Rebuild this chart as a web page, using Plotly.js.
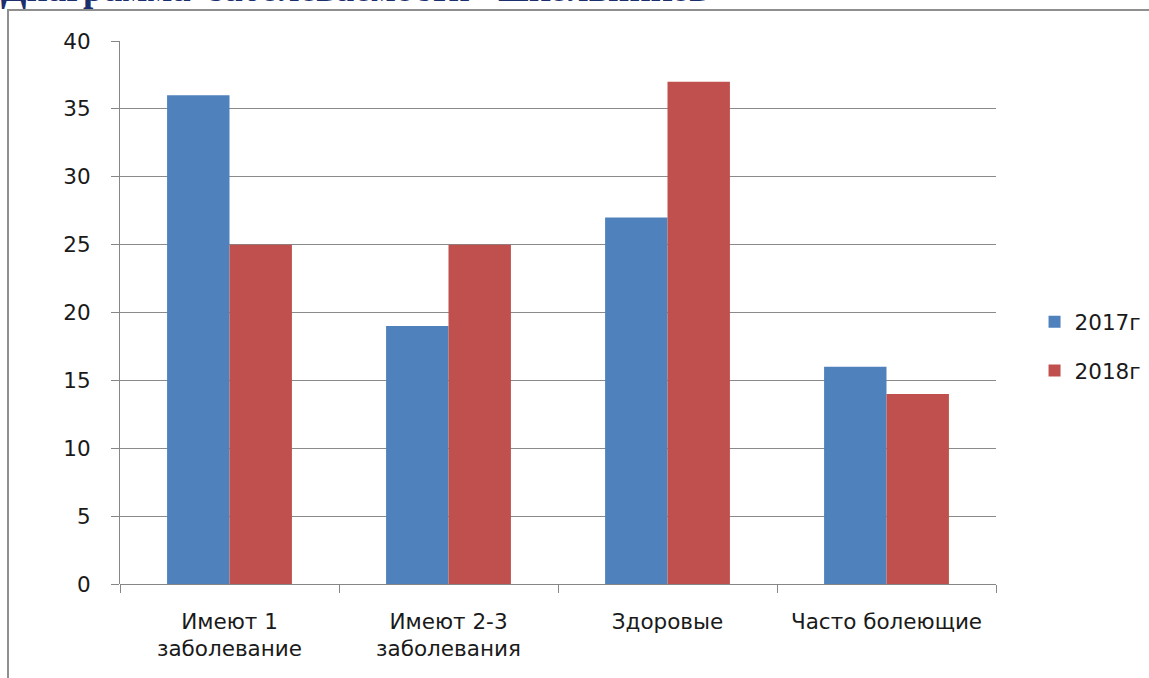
<!DOCTYPE html>
<html>
<head>
<meta charset="utf-8">
<script src="https://cdn.plot.ly/plotly-3.0.1.min.js"></script>
<style>
  html, body { margin: 0; padding: 0; background: #ffffff; overflow: hidden; }
  #frame { position: absolute; left: 7px; top: 9px; width: 1300px; height: 800px; border: 2px solid #8f8f8f; }
  #chart { position: absolute; left: 0; top: 0; width: 1149px; height: 678px; }
</style>
</head>
<body>
<div id="frame"></div>
<div id="chart"></div>
<script>
const titleText = "Диаграмма&nbsp; заболеваемости&nbsp;&nbsp; школьников";
const categories = ["Имеют 1<br>заболевание", "Имеют 2-3<br>заболевания", "Здоровые", "Часто болеющие"];
const seriesNames = ["2017г", "2018г"];
const values2017 = [36, 19, 27, 16];
const values2018 = [25, 25, 37, 14];
const yTicks = [0, 5, 10, 15, 20, 25, 30, 35, 40];

const tickFont = { family: "DejaVu Sans, Liberation Sans, sans-serif", size: 21.5, color: "#1a1a1a" };

const traces = [
  { type: "bar", name: seriesNames[0], x: categories, y: values2017,
    marker: { color: "#4F81BD" }, legendgroup: "a" },
  { type: "bar", name: seriesNames[1], x: categories, y: values2018,
    marker: { color: "#C0504D" }, legendgroup: "b" }
];

const layout = {
  width: 1149, height: 678,
  margin: { l: 120, r: 153, t: 41, b: 94, pad: 0, autoexpand: false },
  paper_bgcolor: "rgba(0,0,0,0)",
  plot_bgcolor: "rgba(0,0,0,0)",
  barmode: "group",
  bargap: 0.43,
  bargroupgap: 0,
  showlegend: true,
  legend: {
    x: 1.044, xanchor: "left", y: 0.438, yanchor: "middle",
    font: tickFont, tracegroupgap: 18, itemwidth: 30,
    bgcolor: "rgba(0,0,0,0)"
  },
  xaxis: {
    type: "category",
    showgrid: false,
    showline: false,
    ticks: "outside", tickson: "boundaries", ticklen: 8, tickwidth: 1, tickcolor: "#868686",
    tickfont: tickFont,
    ticklabelstandoff: 22,
    fixedrange: true
  },
  yaxis: {
    range: [0, 40],
    tickvals: yTicks,
    ticktext: yTicks.map(String),
    showgrid: true, gridcolor: "#8a8a8a", gridwidth: 1,
    showline: true, linecolor: "#868686", linewidth: 1,
    zeroline: true, zerolinecolor: "#868686", zerolinewidth: 1,
    ticks: "outside", ticklen: 8, tickwidth: 1, tickcolor: "#868686",
    tickfont: tickFont,
    ticklabelstandoff: 16,
    fixedrange: true
  },
  annotations: [{
    text: "<b>" + titleText + "</b>",
    xref: "paper", yref: "paper",
    x: -0.138, xanchor: "left",
    y: 1.056, yanchor: "bottom",
    showarrow: false,
    font: { family: "Liberation Serif, Times New Roman, serif", size: 37, color: "#1b2f6e" }
  }]
};

Plotly.newPlot("chart", traces, layout, { displayModeBar: false, staticPlot: true });
</script>
</body>
</html>
